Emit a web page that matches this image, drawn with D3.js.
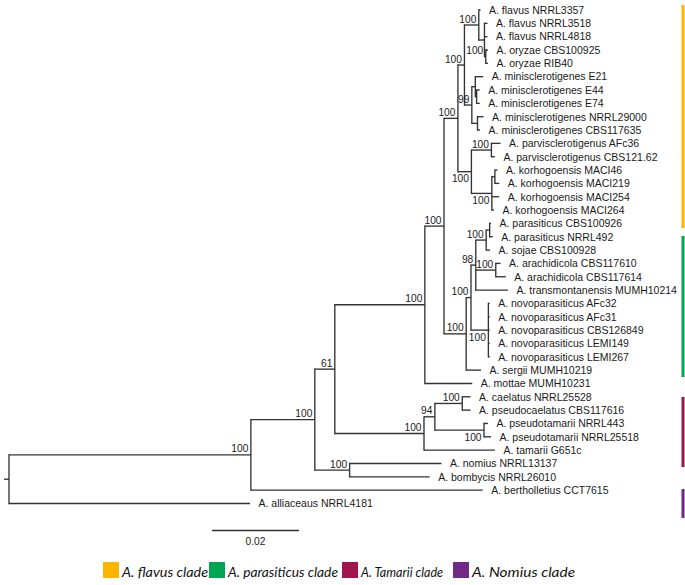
<!DOCTYPE html>
<html><head><meta charset="utf-8">
<script src="https://cdn.jsdelivr.net/npm/d3@7"></script>
<style>body{margin:0;background:#fff} svg{display:block}</style>
</head><body><svg id="c" width="685" height="585"></svg>
<script>
// Internal nodes: [id, parent, branch length (subst./site), bootstrap]
const internalNodes = [
  ["root", "", 0, null],
  ["A", "root", 0.0556, 100],
  ["B", "A", 0.0147, 100],
  ["C", "B", 0.0046, 61],
  ["D", "C", 0.0207, 100],
  ["E", "D", 0.0044, 100],
  ["F", "E", 0.0032, 100],
  ["G", "F", 0.0015, 100],
  ["H", "G", 0.0033, 100],
  ["H2", "H", 0.0013, null],
  ["O", "H2", 0.0003, 100],
  ["M", "G", 0.0017, 99],
  ["M1", "M", 0.0008, null],
  ["M1b", "M1", 0.0003, null],
  ["M2", "M", 0.0013, null],
  ["K", "F", 0.0031, 100],
  ["Pv", "K", 0.0046, 100],
  ["Kh", "K", 0.0047, 100],
  ["Kh2", "Kh", 0.0007, null],
  ["P", "E", 0.0051, 100],
  ["P2", "P", 0.0011, 100],
  ["Q", "P2", 0.0011, 98],
  ["Pa", "Q", 0.0024, 100],
  ["Pa2", "Pa", 0.0008, null],
  ["Ar", "Q", 0.0046, 100],
  ["Nv", "P2", 0.0040, 100],
  ["T", "C", 0.0205, 100],
  ["U", "T", 0.0025, 94],
  ["CA", "U", 0.0063, 100],
  ["PT", "U", 0.0113, 100],
  ["N", "B", 0.0080, 100]
];
// Leaves in display order: [name, parent, branch length]
const leaves = [
  ["A. flavus NRRL3357", "H", 0.0004],
  ["A. flavus NRRL3518", "H2", 0.0007],
  ["A. flavus NRRL4818", "H2", 0.0007],
  ["A. oryzae CBS100925", "O", 0.0005],
  ["A. oryzae RIB40", "O", 0.0005],
  ["A. minisclerotigenes E21", "M1", 0.0018],
  ["A. minisclerotigenes E44", "M1b", 0.0007],
  ["A. minisclerotigenes E74", "M1b", 0.0007],
  ["A. minisclerotigenes NRRL29000", "M2", 0.0014],
  ["A. minisclerotigenes CBS117635", "M2", 0.0006],
  ["A. parvisclerotigenus AFc36", "Pv", 0.0021],
  ["A. parvisclerotigenus CBS121.62", "Pv", 0.0008],
  ["A. korhogoensis MACI46", "Kh2", 0.0006],
  ["A. korhogoensis MACI219", "Kh2", 0.0010],
  ["A. korhogoensis MACI254", "Kh", 0.0017],
  ["A. korhogoensis MACI264", "Kh", 0.0005],
  ["A. parasiticus CBS100926", "Pa2", 0.0003],
  ["A. parasiticus NRRL492", "Pa2", 0.0007],
  ["A. sojae CBS100928", "Pa", 0.0009],
  ["A. arachidicola CBS117610", "Ar", 0.0011],
  ["A. arachidicola CBS117614", "Ar", 0.0023],
  ["A. transmontanensis MUMH10214", "Q", 0.0074],
  ["A. novoparasiticus AFc32", "Nv", 0.0003],
  ["A. novoparasiticus AFc31", "Nv", 0.0003],
  ["A. novoparasiticus CBS126849", "Nv", 0.0003],
  ["A. novoparasiticus LEMI149", "Nv", 0.0003],
  ["A. novoparasiticus LEMI267", "Nv", 0.0003],
  ["A. sergii MUMH10219", "P", 0.0034],
  ["A. mottae MUMH10231", "D", 0.0109],
  ["A. caelatus NRRL25528", "CA", 0.0019],
  ["A. pseudocaelatus CBS117616", "CA", 0.0019],
  ["A. pseudotamarii NRRL443", "PT", 0.0009],
  ["A. pseudotamarii NRRL25518", "PT", 0.0016],
  ["A. tamarii G651c", "T", 0.0163],
  ["A. nomius NRRL13137", "N", 0.0211],
  ["A. bombycis NRRL26010", "N", 0.0184],
  ["A. bertholletius CCT7615", "A", 0.0533],
  ["A. alliaceaus NRRL4181", "root", 0.0554]
];
const cladeNames = ["A. flavus clade", "A. parasiticus clade", "A. Tamarii clade", "A. Nomius clade"];
const cladeColors = ["#FFB400", "#00A650", "#A0154F", "#6F2A86"];
const scaleBarValue = 0.02;

// ---- layout ----
const svg = d3.select("#c");
const data = internalNodes.map(d => ({id: d[0], parentId: d[1] || null, len: d[2], boot: d[3]}))
  .concat(leaves.map(d => ({id: d[0], parentId: d[1], len: d[2], boot: null})));
const root = d3.stratify()(data);
const order = new Map(leaves.map((d, i) => [d[0], i]));
root.eachAfter(n => { n.minIdx = n.children ? d3.min(n.children, c => c.minIdx) : order.get(n.id); });
root.each(n => { if (n.children) n.children.sort((a, b) => a.minIdx - b.minIdx); });
root.eachBefore(n => { n.dist = n.parent ? n.parent.dist + n.data.len : 0; });

const x = d3.scaleLinear().domain([0, scaleBarValue]).range([9, 96]);
const y = d3.scalePoint().domain(leaves.map(d => d[0])).range([10, 503.5]);
root.eachAfter(n => {
  n.py = n.children ? (n.children[0].py + n.children[n.children.length - 1].py) / 2 : y(n.id);
  n.px = x(n.dist);
});

const stroke = "#333";
const sw = 1.35;
const font = "'Liberation Sans', Arial, sans-serif";
const g = svg.append("g");
// horizontal branches
g.selectAll("line.h").data(root.descendants().filter(n => n.parent)).join("line")
  .attr("x1", n => n.parent.px).attr("x2", n => n.px)
  .attr("y1", n => n.py).attr("y2", n => n.py)
  .attr("stroke", stroke).attr("stroke-width", sw);
// vertical connectors
g.selectAll("line.v").data(root.descendants().filter(n => n.children)).join("line")
  .attr("x1", n => n.px).attr("x2", n => n.px)
  .attr("y1", n => n.children[0].py - sw / 2).attr("y2", n => n.children[n.children.length - 1].py + sw / 2)
  .attr("stroke", stroke).attr("stroke-width", sw);
// root stub
g.append("line").attr("x1", root.px - 5).attr("x2", root.px).attr("y1", root.py).attr("y2", root.py)
  .attr("stroke", stroke).attr("stroke-width", sw);

// leaf labels
g.selectAll("text.leaf").data(root.leaves()).join("text")
  .attr("x", n => n.px + 8.5).attr("y", n => n.py + 3.8)
  .attr("font-family", font).attr("font-size", 10.5)
  .attr("fill", "#1a1a1a").text(n => n.id);

// bootstrap labels
const below = new Set(["K", "Kh", "Nv", "PT"]);
g.selectAll("text.boot").data(root.descendants().filter(n => n.data.boot != null)).join("text")
  .attr("x", n => n.px - 2.5).attr("y", n => below.has(n.id) ? n.py + 10.5 : n.py - 2.5)
  .attr("text-anchor", "end")
  .attr("font-family", font).attr("font-size", 10.2)
  .attr("fill", "#1a1a1a").text(n => n.data.boot);

// scale bar
const sbX0 = 212;
g.append("line").attr("x1", sbX0).attr("x2", sbX0 + x(scaleBarValue) - x(0))
  .attr("y1", 530.5).attr("y2", 530.5).attr("stroke", stroke).attr("stroke-width", sw);
g.append("text").attr("x", sbX0 + (x(scaleBarValue) - x(0)) / 2).attr("y", 545)
  .attr("text-anchor", "middle").attr("font-family", font)
  .attr("font-size", 10.2).attr("fill", "#1a1a1a").text(scaleBarValue);

// clade bars (placed as in the figure)
const barExtents = [[5, 228], [236, 377], [397, 467], [489, 518]];
svg.selectAll("rect.bar").data(cladeColors).join("rect")
  .attr("x", 681.5).attr("width", 3)
  .attr("y", (c, i) => barExtents[i][0]).attr("height", (c, i) => barExtents[i][1] - barExtents[i][0])
  .attr("fill", c => c);

// legend
const legendX = [103, 209, 342, 453];
const legendW = [86, 110, 82, 103];
const lg = svg.append("g");
cladeNames.forEach((name, i) => {
  lg.append("rect").attr("x", legendX[i]).attr("y", 562).attr("width", 16).attr("height", 16).attr("fill", cladeColors[i]);
  lg.append("text").attr("x", legendX[i] + 19).attr("y", 577)
    .attr("font-family", "Lato, sans-serif").attr("font-style", "italic").attr("font-size", 14.3)
    .attr("textLength", legendW[i]).attr("lengthAdjust", "spacingAndGlyphs")
    .attr("fill", "#111").text(name);
});
</script></body></html>
